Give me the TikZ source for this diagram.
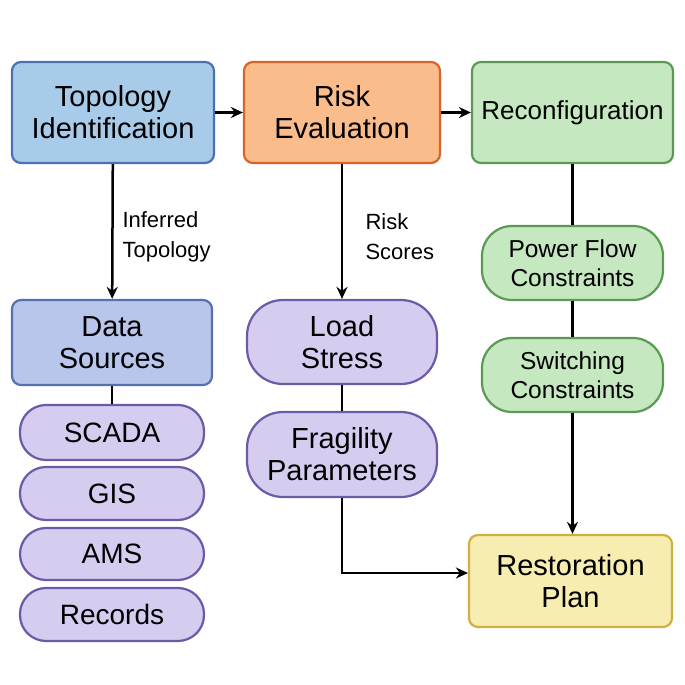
\documentclass[tikz,border=0pt]{standalone}
\usepackage{fontspec}
\setmainfont{Liberation Sans}
\usetikzlibrary{arrows.meta}
\definecolor{bF}{HTML}{A9CBEA}\definecolor{bD}{HTML}{4A72B0}
\definecolor{oF}{HTML}{F9BC8A}\definecolor{oD}{HTML}{D9642A}
\definecolor{gF}{HTML}{C5E8C0}\definecolor{gD}{HTML}{5A9A55}
\definecolor{lF}{HTML}{B9C6EC}\definecolor{lD}{HTML}{5670B0}
\definecolor{pF}{HTML}{D6CCEF}\definecolor{pD}{HTML}{6A5AA8}
\definecolor{yF}{HTML}{F8EDB0}\definecolor{yD}{HTML}{D0B040}
\tikzset{
 box/.style={draw, line width=2.2pt, rounded corners=9pt, align=center, inner sep=0pt,
   font=\fontsize{29}{32}\selectfont},
 pill/.style={draw, line width=2.2pt, rounded corners=26pt, align=center, inner sep=0pt,
   font=\fontsize{28}{32}\selectfont, fill=pF, draw=pD},
 gpill/.style={pill, fill=gF, draw=gD, rounded corners=30pt, font=\fontsize{24.5}{29}\selectfont},
 lab/.style={align=left, font=\fontsize{22}{30}\selectfont, anchor=west},
 arr/.style={line width=2.5pt, -{Stealth[length=12pt,width=11pt]}},
 ln/.style={line width=2.5pt}
}
\begin{document}
\begin{tikzpicture}[x=1pt,y=-1pt]
\useasboundingbox (0,0) rectangle (685,685);
\node[box, fill=bF, draw=bD, minimum width=202pt, minimum height=101pt] (topo) at (113,112.5) {Topology\\Identification};
\node[box, fill=oF, draw=oD, minimum width=196pt, minimum height=101pt] (risk) at (342,112.5) {Risk\\Evaluation};
\node[box, fill=gF, draw=gD, minimum width=201pt, minimum height=101pt, font=\fontsize{26}{30}\selectfont] (reco) at (572.5,112.5) {Reconfiguration};
\node[box, fill=lF, draw=lD, minimum width=200pt, minimum height=85pt] (data) at (112,342.5) {Data\\Sources};
\node[pill, minimum width=184pt, minimum height=55pt] (scada) at (112,432.5) {SCADA};
\node[pill, minimum width=184pt, minimum height=53pt] (gis) at (112,493.5) {GIS};
\node[pill, minimum width=184pt, minimum height=52pt] (ams) at (112,554) {AMS};
\node[pill, minimum width=184pt, minimum height=53pt] (rec) at (112,614.5) {Records};
\node[pill, rounded corners=36pt, minimum width=190pt, minimum height=84pt, font=\fontsize{29}{32}\selectfont] (load) at (342,342) {Load\\Stress};
\node[pill, rounded corners=36pt, minimum width=190pt, minimum height=85pt, font=\fontsize{29}{32}\selectfont] (frag) at (342,454.5) {Fragility\\Parameters};
\node[gpill, minimum width=181pt, minimum height=74pt] (pf) at (572.5,263) {Power Flow\\Constraints};
\node[gpill, minimum width=181pt, minimum height=74pt] (sw) at (572.5,375) {Switching\\Constraints};
\node[box, fill=yF, draw=yD, minimum width=203pt, minimum height=92pt] (rest) at (570.5,581) {Restoration\\Plan};
\draw[arr] (topo) -- (data);
\draw[arr] (risk) -- (load);
\draw[arr] (topo) -- (risk);
\draw[arr] (risk) -- (reco);
\draw[ln] (data) -- (scada);
\draw[ln] (load) -- (frag);
\draw[ln] (reco.south -| pf) -- (pf);
\draw[ln] (pf) -- (sw);
\draw[arr] (sw) -- (rest.north -| sw);
\coordinate (bend) at (342,573);
\draw[arr] (frag.south) -- (bend) -- (bend -| rest.west);
\node[lab] (l1) at (119,237) {Inferred\\Topology};
\node[lab] (l2) at (362,237) {Risk\\Scores};
\end{tikzpicture}
\end{document}
